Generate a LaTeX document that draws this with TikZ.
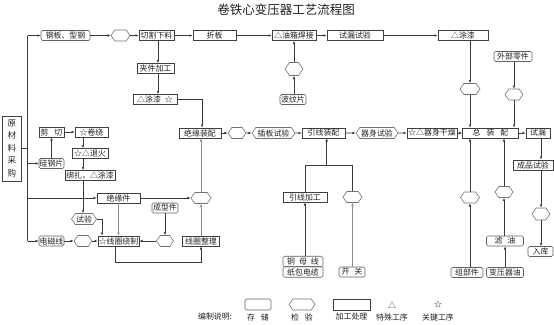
\documentclass[tikz,border=0pt]{standalone}
\usepackage{fontspec}
\newfontfamily\cjk{Noto Sans CJK SC}
\usetikzlibrary{shapes.symbols,arrows.meta}
\definecolor{lc}{HTML}{3A3A3A}
\definecolor{bc}{HTML}{404040}
\definecolor{sc}{HTML}{606060}
\definecolor{hc}{HTML}{707070}
\definecolor{gl}{HTML}{8C8C8C}
\definecolor{tc}{HTML}{202020}
\begin{document}
\begin{tikzpicture}[x=1pt,y=-1pt]
\tikzset{
 ln/.style={draw=lc, line width=0.6pt},
 ar/.style={ln, -{Latex[length=3.2pt,width=2.6pt]}},
 gar/.style={ar, draw=gl},
 gln/.style={ln, draw=gl},
 txt/.style={font=\cjk\fontsize{7.9}{8}\selectfont, text=tc},
 pbox/.style={txt, draw=bc, line width=0.6pt, inner sep=0pt, minimum height=10pt},
 sbox/.style={pbox, rounded corners=1.5pt, draw=sc},
 hexn/.style={txt, signal, signal to=east and west, signal pointer angle=110, draw=hc, line width=0.6pt, inner sep=0.5pt, minimum height=11pt},
}
\useasboundingbox (0,0) rectangle (554,324);
% title
\node[font=\cjk\fontsize{12.5}{14}\selectfont, text=tc] (title) at (286,10) {卷铁心变压器工艺流程图};
% top row
\node[sbox, minimum width=49pt] (steel) at (65.5,35.5) {钢板、型钢};
\node[hexn, minimum width=19pt] (h1) at (120.5,35.5) {};
\node[pbox, minimum width=35pt] (cut) at (156.5,35.5) {切割下料};
\node[pbox, minimum width=43pt] (fold) at (214.5,35.5) {折板};
\node[pbox, minimum width=44pt] (weld) at (294,35.5) {△油箱焊接};
\node[pbox, minimum width=56pt] (leak) at (355,35.5) {试漏试验};
\node[pbox, minimum width=50pt] (paint2) at (463,35.5) {△涂漆};
\node[hexn, minimum width=18pt, minimum height=13pt] (hweld) at (294,69) {};
\node[sbox, minimum width=26pt] (corr) at (293,99.5) {波纹片};
\node[pbox, minimum width=37pt] (clamp) at (155.5,68.5) {夹件加工};
\node[pbox, minimum width=44pt] (paint1) at (155,99.5) {△涂漆\hspace{4pt}☆};
\node[sbox, minimum width=38pt] (ext) at (513,56.5) {外部零件};
\node[hexn, minimum width=20pt] (hpaint) at (470,89) {};
\node[hexn, minimum width=18pt] (hext) at (514,94.5) {};
% middle row
\node[pbox, minimum width=56pt] (final) at (490.5,133) {总\hspace{6pt}装\hspace{6pt}配};
\node[pbox, minimum width=24pt] (leak2) at (538,133) {试漏};
\node[pbox, minimum width=40pt] (ptest) at (533,165) {成品试验};
\node[hexn, minimum width=18pt, minimum height=12pt] (hstore) at (541,214) {};
\node[sbox, minimum width=25pt] (wh) at (540.5,251.5) {入库};
\node[hexn, minimum width=19pt] (ha) at (470,197.5) {};
\node[sbox, minimum width=32pt] (parts) at (467,272.5) {组部件};
\node[hexn, minimum width=18pt] (hb) at (504,192) {};
\node[sbox, minimum width=37pt] (filt) at (505,241) {滤\hspace{5pt}油};
\node[sbox, minimum width=37pt] (oil) at (505,272.5) {变压器油};
\node[pbox, minimum width=42pt] (insasm) at (200,133) {绝缘装配};
\node[hexn, minimum width=18pt] (hc) at (237,133) {};
\node[hexn, minimum width=43pt] (plug) at (273.5,133) {插板试验};
\node[pbox, minimum width=43pt] (leadasm) at (323.5,133) {引线装配};
\node[hexn, minimum width=42pt] (bodytest) at (377,133) {器身试验};
\node[pbox, minimum width=50pt] (dry) at (432,133) {☆△器身干燥};
\node[pbox, minimum width=44pt] (leadproc) at (305,197) {引线加工};
\node[hexn, minimum width=19pt] (hd) at (352.5,197) {};
\node[sbox, minimum width=40pt, minimum height=10.5pt] (cu) at (303,261.5) {铜\hspace{4pt}母\hspace{4pt}线};
\node[sbox, minimum width=40pt, minimum height=10.5pt] (paper) at (303,272) {纸包电缆};
\node[sbox, minimum width=26pt] (switch) at (352,272) {开\hspace{5pt}关};
\node[hexn, minimum width=20pt] (he) at (201,198) {};
\node[pbox, minimum width=37pt] (coilfin) at (201,241) {线圈整理};
\node[pbox, minimum width=41pt] (coil) at (118.5,241) {☆线圈绕制};
\node[hexn, minimum width=18pt] (hf) at (83,241) {};
\node[sbox, minimum width=25pt] (wire) at (51.5,241) {电磁线};
\node[hexn, minimum width=25pt] (test) at (84,219) {试验};
\node[sbox, minimum width=26pt] (form) at (165,208) {成型件};
\node[hexn, minimum width=17pt] (hg) at (165,241) {};
\node[pbox, minimum width=43pt] (insp) at (118.5,198) {绝缘件};
\node[pbox, minimum width=25pt] (shear) at (51.5,132) {剪\hspace{6pt}切};
\node[pbox, minimum width=33pt] (wind) at (91.5,132) {☆卷绕};
\node[pbox, minimum width=36pt] (anneal) at (90,153.5) {☆△退火};
\node[pbox, minimum width=50pt] (bind) at (90,175.5) {绑扎，△涂漆};
\node[sbox, minimum width=25pt] (si) at (51.5,163.5) {硅钢片};
\node[pbox, minimum width=19pt, minimum height=65pt, align=center, font=\cjk\fontsize{8.5}{12.5}\selectfont] (raw) at (12,148.5) {原\\材\\料\\采\\购};
% legend
\node[txt] (lgtitle) at (215,316) {编制说明:};
\node[sbox, minimum width=26pt, minimum height=11pt] (lg1) at (258,304.5) {};
\node[hexn, minimum width=26pt, minimum height=11pt] (lg2) at (302,304.5) {};
\node[pbox, minimum width=37pt, minimum height=11pt] (lg3) at (351.5,304.5) {};
\node[txt] (lg4) at (392,305) {△};
\node[txt] (lg5) at (438,305) {☆};
\node[txt] (lt1) at (258,317) {存\hspace{6pt}储};
\node[txt] (lt2) at (302,317) {检\hspace{6pt}验};
\node[txt] (lt3) at (351.5,317) {加工处理};
\node[txt] (lt4) at (392,317) {特殊工序};
\node[txt] (lt5) at (438,317) {关键工序};
% trunk
\coordinate (tA) at (27.5,35.5);
\coordinate (tB) at (27.5,241);
\draw[ln] (raw.east) -- (raw.east -| tA);
\draw[ln] (tA) -- (tB);
\draw[ar] (tA) -- (steel.west);
\draw[ar] (si.west -| tA) -- (si.west);
\draw[ar] (insp.west -| tA) -- (insp.west);
\draw[ar] (tB) -- (wire.west);
% top chain
\draw[ar] (steel) -- (h1);
\draw[ar] (h1) -- (cut);
\draw[ar] (cut) -- (fold);
\draw[ar] (fold) -- (weld);
\draw[ar] (weld) -- (leak);
\draw[ar] (leak) -- (paint2);
\coordinate (cx1) at (158,0);
\draw[ar] (cut.south -| cx1) -- (clamp.north -| cx1);
\draw[ar] (clamp.south -| cx1) -- (paint1.north -| cx1);
\coordinate (k1) at (202,99.5);
\draw[ar] (paint1.east) -- (k1) -- (insasm.north -| k1);
\draw[ar] (corr.north -| hweld) -- (hweld.south);
\draw[ar] (hweld.north) -- (weld.south -| hweld);
\draw[ar] (paint2.south -| hpaint) -- (hpaint.north);
\draw[ar] (hpaint.south) -- (final.north -| hpaint);
\draw[ar] (ext.south -| hext) -- (hext.north);
\draw[ar] (hext.south) -- (final.north -| hext);
% right column
\draw[ar] (final) -- (leak2);
\coordinate (cx2) at (541,0);
\draw[ar] (leak2.south -| cx2) -- (ptest.north -| cx2);
\draw[ar] (ptest.south -| cx2) -- (hstore.north);
\draw[ar] (hstore.south) -- (wh.north -| cx2);
\draw[ar] (parts.north -| ha) -- (ha.south);
\draw[ar] (ha.north) -- (final.south -| ha);
\draw[ar] (oil) -- (filt);
\draw[ar] (filt.north -| hb) -- (hb.south);
\draw[ar] (hb.north) -- (final.south -| hb);
% middle chain
\draw[ar] (insasm) -- (hc);
\draw[ar] (hc) -- (plug);
\draw[ar] (plug) -- (leadasm);
\draw[ar] (leadasm) -- (bodytest);
\draw[ar] (bodytest) -- (dry);
\draw[ar] (dry) -- (final);
\coordinate (j) at (326.7,165);
\draw[ln] (leadproc.north) |- (j -| hd) -- (hd.north);
\draw[ar] (j) -- (leadasm.south -| j);
\draw[ar] (cu.north -| leadproc) -- (leadproc.south);
\draw[gar] (switch.north -| hd) -- (hd.south);
% coil area
\draw[gar] (he.north) -- (insasm.south -| he);
\draw[ar] (insp.east) -- (he.west);
\draw[gar] (coilfin.north -| he) -- (he.south);
\coordinate (k2) at (115,262);
\draw[ar] (coil.south -| k2) -- (k2) -- (k2 -| coilfin) -- (coilfin.south);
\draw[ar] (wire) -- (hf);
\draw[ar] (hf) -- (coil);
\coordinate (k3) at (102,219);
\draw[ar] (test.east) -- (k3) -- (coil.north -| k3);
\draw[gar] (insp) -- (coil);
\draw[ar] (form) -- (hg);
\draw[ar] (hg) -- (coil);
\draw[ar] (si.north) -- (shear.south);
\draw[ar] (shear) -- (wind);
\coordinate (cx3) at (83,0);
\draw[ar] (wind.south -| cx3) -- (anneal.north -| cx3);
\draw[ar] (anneal.south -| cx3) -- (bind.north -| cx3);
\draw[ar] (bind.south -| cx3) -- (test.north -| cx3);
\end{tikzpicture}
\end{document}
